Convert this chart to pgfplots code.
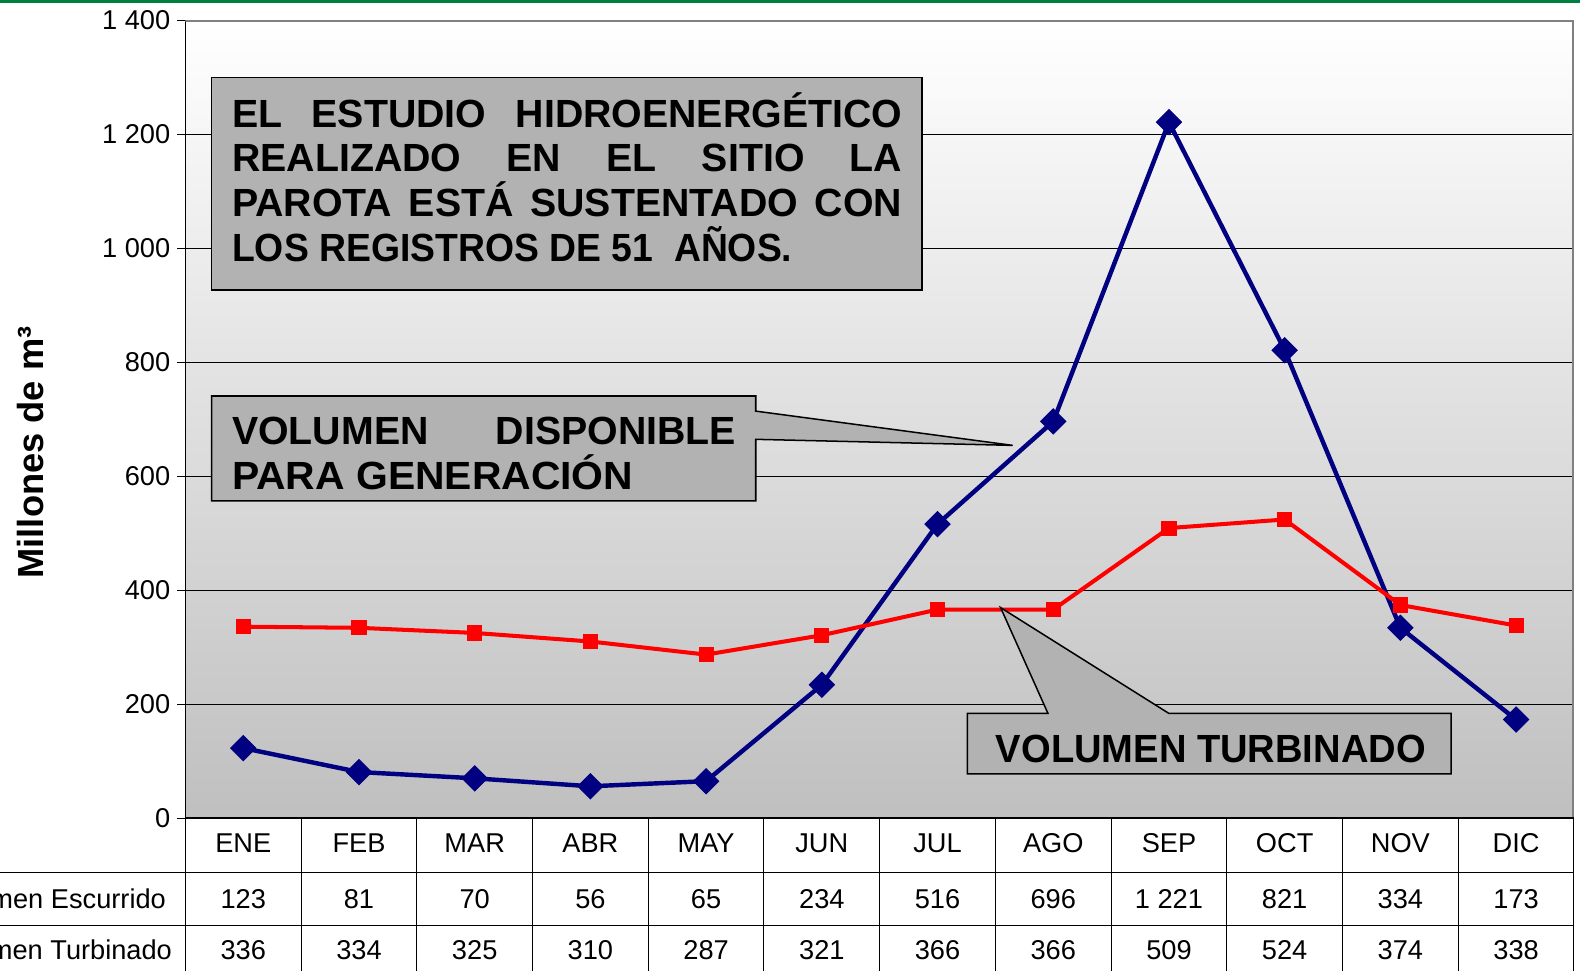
\documentclass[border=0pt]{standalone}
\usepackage{pgfplots}
\pgfplotsset{compat=1.18}
\usepackage{fontspec}
\setmainfont{Liberation Sans}
\definecolor{navy}{RGB}{0,0,128}
\definecolor{boxgray}{RGB}{178,178,178}
\definecolor{framegray}{RGB}{128,128,128}
\definecolor{topgreen}{RGB}{0,128,64}
\begin{document}
\begin{tikzpicture}[x=0.5pt,y=0.5pt]
\path[use as bounding box] (0,0) rectangle (1568,964);
\clip (0,0) rectangle (1568,964);
\fill[white] (0,0) rectangle (1568,964);
\fill[topgreen] (0,961) rectangle (1568,964);

\begin{axis}[
  at={(92pt,76pt)}, anchor=south west, scale only axis,
  width=689pt, height=396pt,
  xmin=-0.5, xmax=11.5, ymin=0, ymax=1400,
  axis x line*=bottom, axis y line*=left,
  axis line style={-, black, line width=0.5pt},
  xtick=\empty,
  ytick={0,200,...,1400},
  tick align=outside, major tick length=4pt,
  ytick style={black, line width=0.5pt},
  ymajorgrids, major grid style={black, line width=0.5pt},
  axis background/.style={top color=white, bottom color=black!25},
  yticklabel style={font=\fontsize{13.5}{13.5}\selectfont},
  /pgf/number format/.cd, 1000 sep={\ }, assume math mode=true,
]
\addplot[navy, line width=2.2pt, mark=square*, mark size=4.4pt,
  mark options={rotate=45, solid, line width=0.5pt}]
  coordinates {(0,123)(1,81)(2,70)(3,56)(4,65)(5,234)(6,516)(7,696)(8,1221)(9,821)(10,334)(11,173)};
\addplot[red, line width=2pt, mark=square*, mark size=3.5pt,
  mark options={solid, line width=0.5pt}]
  coordinates {(0,336)(1,334)(2,325)(3,310)(4,287)(5,321)(6,366)(7,366)(8,509)(9,524)(10,374)(11,338)};
\draw[framegray, line width=1.5pt] (rel axis cs:0,1) -- (rel axis cs:1,1) -- (rel axis cs:1,0);
\end{axis}

% table
\draw[black, line width=0.75pt] (184,152) -- (1562,152);
\draw[black, line width=0.5pt] (0,98) -- (1562,98);
\draw[black, line width=0.5pt] (0,46) -- (1562,46);
\foreach \k in {0,...,12}{
  \draw[black, line width=0.5pt] ({184+\k*114.8333},152) -- ({184+\k*114.8333},0);
}
\foreach \m/\a/\b [count=\i from 0] in {ENE/123/336,FEB/81/334,MAR/70/325,ABR/56/310,MAY/65/287,JUN/234/321,JUL/516/366,AGO/696/366,SEP/{1 221}/509,OCT/821/524,NOV/334/374,DIC/173/338}{
  \pgfmathsetmacro\cx{184+(\i+0.5)*114.8333}
  \node[anchor=base, inner sep=0, font=\fontsize{13.5}{13.5}\selectfont] at (\cx,118) {\m};
  \node[anchor=base, inner sep=0, font=\fontsize{13.5}{13.5}\selectfont] at (\cx,62) {\a};
  \node[anchor=base, inner sep=0, font=\fontsize{13.5}{13.5}\selectfont] at (\cx,12) {\b};
}
\node[anchor=base east, inner sep=0, font=\fontsize{13.5}{13.5}\selectfont] at (165,62) {Volumen Escurrido};
\node[anchor=base east, inner sep=0, font=\fontsize{13.5}{13.5}\selectfont] at (171,12) {Volumen Turbinado};

% y label
\node[rotate=90, inner sep=0, font=\bfseries\fontsize{18}{18}\selectfont] at (30,515) {Millones de m³};

% callout 1
\filldraw[fill=boxgray, draw=black, line width=0.75pt] (210,887) rectangle (915,676);
\begin{scope}[every node/.style={anchor=base west, inner sep=0, font=\bfseries\fontsize{19.5}{19.5}\selectfont}]
\node at (230,837.5) {\makebox[332.5pt][s]{EL\hfill ESTUDIO\hfill HIDROENERGÉTICO}};
\node at (230,793.5) {\makebox[332.5pt][s]{REALIZADO\hfill EN\hfill EL\hfill SITIO\hfill LA}};
\node at (230,749.5) {\makebox[332.5pt][s]{PAROTA\hfill ESTÁ\hfill SUSTENTADO\hfill CON}};
\node at (230,704.5) {\scalebox{0.95}[1]{LOS REGISTROS DE 51\ \ AÑOS.}};
\end{scope}

% callout 2
\filldraw[fill=boxgray, draw=black, line width=0.75pt]
  (210,571) -- (750,571) -- (750,556) -- (1005,522) -- (750,528) -- (750,467) -- (210,467) -- cycle;
\begin{scope}[every node/.style={anchor=base west, inner sep=0, font=\bfseries\fontsize{19.5}{19.5}\selectfont}]
\node at (230,522.5) {\makebox[250pt][s]{VOLUMEN\hfill DISPONIBLE}};
\node at (230,478.5) {\scalebox{1.04}[1]{PARA GENERACIÓN}};
\end{scope}

% callout 3
\filldraw[fill=boxgray, draw=black, line width=0.75pt]
  (960,256) -- (1040,256) -- (993,361) -- (1160,256) -- (1440,256) -- (1440,196) -- (960,196) -- cycle;
\node[anchor=base west, inner sep=0, font=\bfseries\fontsize{19.5}{19.5}\selectfont] at (988,207.5) {\scalebox{0.97}[1]{VOLUMEN TURBINADO}};
\end{tikzpicture}
\end{document}
